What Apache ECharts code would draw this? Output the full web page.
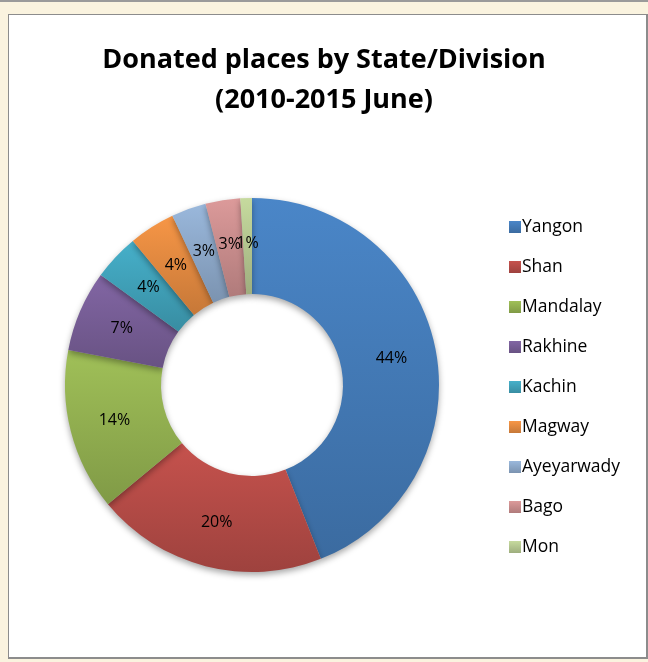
<!DOCTYPE html>
<html>
<head>
<meta charset="utf-8">
<script src="https://cdn.jsdelivr.net/npm/echarts@6/dist/echarts.min.js"></script>
<style>
  html, body { margin: 0; padding: 0; }
  body {
    width: 648px; height: 662px;
    background: #faf3df;
    position: relative;
    overflow: hidden;
  }
  .topline { position: absolute; left: 0; top: 0; width: 648px; height: 2px; background: #9a9a9a; }
  .frame {
    position: absolute; left: 8px; top: 14px; width: 637px; height: 642px;
    background: #fff; border: 1px solid #8c8c8c; border-right-width: 2px; border-bottom-width: 2px;
  }
  #chart { position: absolute; left: 0; top: 0; width: 648px; height: 662px; }
</style>
</head>
<body>
<div class="topline"></div>
<div class="frame"></div>
<div id="chart"></div>
<script>
// 各州/省份占比
const places = ['Yangon', 'Shan', 'Mandalay', 'Rakhine', 'Kachin', 'Magway', 'Ayeyarwady', 'Bago', 'Mon'];
const shares = [44, 20, 14, 7, 4, 4, 3, 3, 1];
const colors = ['#4a86c8', '#c6524d', '#a0c058', '#8266a4', '#46b0ca', '#f79646', '#9ab8dc', '#dc9a9a', '#c6da9e'];

// 渐变底部颜色（变暗）
function darken(hex, f) {
  const n = parseInt(hex.slice(1), 16);
  const r = Math.round(((n >> 16) & 255) * f);
  const g = Math.round(((n >> 8) & 255) * f);
  const b = Math.round((n & 255) * f);
  return 'rgb(' + r + ',' + g + ',' + b + ')';
}

const myChart = echarts.init(document.getElementById('chart'));
myChart.setOption({
  backgroundColor: 'transparent',
  title: {
    text: 'Donated places by State/Division\n(2010-2015 June)',
    left: 'center',
    top: 35,
    textStyle: {
      fontFamily: 'Open Sans',
      fontWeight: 'bold',
      fontSize: 27,
      lineHeight: 40,
      color: '#000'
    }
  },
  legend: {
    orient: 'vertical',
    left: 504,
    top: 210,
    itemWidth: 12,
    itemHeight: 12,
    itemGap: 16,
    icon: 'rect',
    textStyle: { fontFamily: 'Open Sans', fontSize: 17.5, lineHeight: 24, color: '#000', padding: [0, 0, 0, -4] },
    data: places
  },
  series: [
    {
      type: 'pie',
      center: [252, 385],
      radius: [91, 187],
      startAngle: 90,
      clockwise: true,
      silent: true,
      label: {
        show: true,
        position: 'inside',
        formatter: '{d}%',
        fontFamily: 'Open Sans',
        fontSize: 16,
        color: '#000'
      },
      labelLayout: { hideOverlap: false },
      labelLine: { show: false },
      itemStyle: {
        shadowBlur: 6,
        shadowColor: 'rgba(0,0,0,0.35)',
        shadowOffsetY: 3
      },
      data: places.map((name, i) => ({
        name: name,
        value: shares[i],
        itemStyle: {
          color: new echarts.graphic.LinearGradient(0, 0, 0, 1, [
            { offset: 0, color: colors[i] },
            { offset: 1, color: darken(colors[i], 0.8) }
          ])
        }
      }))
    }
  ]
});
</script>
</body>
</html>
